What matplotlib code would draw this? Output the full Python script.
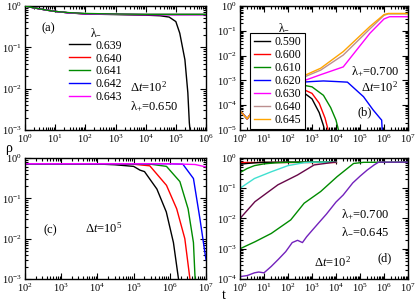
import matplotlib
matplotlib.use("Agg")
import matplotlib.pyplot as plt
from matplotlib.ticker import LogLocator, LogFormatterMathtext, NullFormatter

plt.rcParams['font.family'] = 'serif'
plt.rcParams['font.serif'] = ['Liberation Serif']
plt.rcParams['mathtext.fontset'] = 'custom'
plt.rcParams['mathtext.rm'] = 'Liberation Serif'
plt.rcParams['mathtext.it'] = 'Liberation Serif:italic'

GREEN = '#008b00'
BROWN = '#bc8f8f'
ORANGE = '#ffa500'
TURQ = '#40e0d0'
MAROON = '#670748'
INDIGO = '#7221bc'

# ---- panel (a): dt = 1e2, lambda+ = 0.650
a_labels = ['0.639', '0.640', '0.641', '0.642', '0.643']
a_colors = ['black', 'red', GREEN, 'blue', 'magenta']
a_t = [
    [1, 2, 5, 10, 30, 100, 1e3, 1e4, 3e4, 6e4, 1e5, 1.35e5, 2e5, 2.5e5, 2.8e5, 3e5],
    [1, 2, 5, 10, 30, 100, 1e3, 1e4, 1e5, 1e6],
    [1, 2, 5, 10, 30, 100, 1e3, 1e4, 1e5, 1e6],
    [1, 2, 5, 10, 30, 100, 1e3, 1e4, 1e5, 1e6],
    [1, 2, 5, 10, 30, 100, 1e3, 1e4, 1e5, 1e6],
]
a_rho = [
    [1.0, 0.9, 0.8, 0.74, 0.68, 0.64, 0.62, 0.6, 0.58, 0.54, 0.42, 0.22, 0.05, 0.008, 0.0015, 0.0009],
    [1.0, 0.9, 0.8, 0.74, 0.68, 0.65, 0.63, 0.62, 0.62, 0.62],
    [1.0, 0.9, 0.8, 0.74, 0.69, 0.66, 0.64, 0.63, 0.63, 0.63],
    [1.0, 0.9, 0.8, 0.74, 0.68, 0.65, 0.63, 0.62, 0.62, 0.62],
    [1.0, 0.9, 0.8, 0.74, 0.68, 0.65, 0.63, 0.62, 0.62, 0.62],
]

# ---- panel (b): dt = 1e2, lambda+ = 0.700
b_labels = ['0.590', '0.600', '0.610', '0.620', '0.630', '0.640', '0.645']
b_colors = ['black', 'red', GREEN, 'blue', 'magenta', BROWN, ORANGE]
b_t = [
    [1, 2, 3, 10, 100, 400, 1000, 2000, 3000, 3500, 4000],
    [1, 2, 3, 10, 100, 400, 1000, 2000, 3500, 5000, 5500],
    [1, 2, 3, 10, 100, 400, 1000, 3000, 6000, 1e4, 1.3e4, 1.4e4],
    [1, 2, 3, 10, 100, 400, 1000, 3000, 1e4, 3e4, 1.4e5, 3.5e5, 6.8e5, 8e5, 8.5e5, 9e5],
    [1, 2, 3, 10, 100, 500, 2300, 2e4, 2.6e5, 1e6, 1.7e6, 1e7],
    [1, 2, 3, 10, 100, 500, 2300, 2e4, 2.6e5, 1e6, 1.5e6, 1e7],
    [1, 2, 3, 10, 100, 500, 2300, 2e4, 2.6e5, 1e6, 1.5e6, 1e7],
]
b_rho = [
    [6e-5, 2.8e-5, 5e-5, 1e-4, 3e-4, 3.5e-4, 1.8e-4, 5e-5, 1.5e-5, 8e-6, 5e-6],
    [6e-5, 2.8e-5, 5e-5, 1e-4, 3.5e-4, 4.5e-4, 3e-4, 1.2e-4, 3e-5, 8e-6, 5e-6],
    [6e-5, 2.8e-5, 5e-5, 1e-4, 4e-4, 6.5e-4, 5.5e-4, 2.5e-4, 8e-5, 2.5e-5, 9e-6, 5e-6],
    [6e-5, 2.8e-5, 5e-5, 1e-4, 5e-4, 8.5e-4, 9e-4, 9.5e-4, 9e-4, 8.5e-4, 2.2e-4, 6.5e-5, 3e-5, 2.5e-5, 8e-6, 5e-6],
    [6e-5, 2.8e-5, 5e-5, 1e-4, 5e-4, 1e-3, 1.7e-3, 3.5e-3, 0.08, 0.3, 0.37, 0.37],
    [6e-5, 2.8e-5, 5e-5, 1e-4, 6e-4, 1.4e-3, 2.6e-3, 1.05e-2, 0.12, 0.42, 0.48, 0.48],
    [6e-5, 2.8e-5, 5e-5, 1e-4, 6e-4, 1.6e-3, 3.1e-3, 1.45e-2, 0.15, 0.45, 0.5, 0.5],
]

# ---- panel (c): dt = 1e5
c_colors = ['black', 'red', GREEN, 'blue', 'magenta']
c_t = [
    [1e2, 1e3, 1e4, 3e4, 1e5, 1.5e5, 2e5, 4.4e5, 8e5, 1.26e6, 1.74e6],
    [1e2, 1e4, 1e5, 2.8e5, 8.1e5, 1.55e6, 2.6e6, 3.6e6],
    [1e2, 1e5, 3e5, 8.1e5, 1.9e6, 3.2e6, 4.5e6, 5e6],
    [1e2, 1e6, 2.3e6, 4.5e6, 6.8e6, 9.3e6, 1e7],
    [1e2, 1e6, 5e6, 1e7],
]
c_rho = [
    [0.72, 0.72, 0.71, 0.68, 0.62, 0.5, 0.46, 0.17, 0.046, 0.008, 0.001],
    [0.72, 0.72, 0.7, 0.64, 0.21, 0.055, 0.01, 0.001],
    [0.72, 0.72, 0.7, 0.62, 0.26, 0.055, 0.008, 0.001],
    [0.72, 0.72, 0.7, 0.31, 0.031, 0.0046, 0.003],
    [0.72, 0.72, 0.69, 0.6],
]

# ---- panel (d): dt = 1e2, lambda+ = 0.700, lambda- = 0.645, various initial densities
d_colors = ['red', 'black', GREEN, TURQ, MAROON, GREEN, INDIGO]
d_t = [
    [1, 10, 100, 1e3, 1e4],
    [1, 2, 5, 10, 100, 1e4],
    [1, 2, 4, 10, 30, 100, 1e3, 1e4],
    [1, 4, 20, 100, 470, 1e3, 1e4],
    [1, 4.2, 38, 250, 1230, 8000, 1e4],
    [1, 4.2, 20, 130, 470, 2300, 1.1e4, 5.4e4, 1.4e5, 1e7],
    [1, 2, 4, 6, 10, 20, 40, 80, 150, 250, 400, 600, 1000, 2000, 4000, 1e4, 2e4,
     5e4, 1e5, 2e5, 4e5, 6e5, 1e6, 1e7],
]
d_rho = [
    [0.74, 0.74, 0.74, 0.74, 0.74],
    [0.62, 0.66, 0.7, 0.72, 0.73, 0.73],
    [0.33, 0.45, 0.56, 0.64, 0.69, 0.72, 0.73, 0.73],
    [0.1, 0.21, 0.35, 0.56, 0.7, 0.73, 0.73],
    [0.01, 0.036, 0.13, 0.275, 0.59, 0.72, 0.73],
    [1e-3, 1.7e-3, 3.2e-3, 9e-3, 0.032, 0.078, 0.24, 0.66, 0.72, 0.73],
    [1.2e-4, 1.3e-4, 1.6e-4, 1.7e-4, 1.6e-4, 2.6e-4, 4.5e-4, 8e-4, 1.6e-3, 1.9e-3,
     1.6e-3, 2.5e-3, 4e-3, 7.5e-3, 1.4e-2, 3.5e-2, 6e-2, 0.15, 0.25, 0.4, 0.6,
     0.73, 0.73, 0.73],
]

W, H = 415, 301
fig = plt.figure(figsize=(W / 100, H / 100), dpi=100)


def make_ax(x0, y0, x1, y1):
    return fig.add_axes([x0 / W, 1 - y1 / H, (x1 - x0) / W, (y1 - y0) / H])


def style(ax, xlim, ylim):
    ax.set_xscale('log')
    ax.set_yscale('log')
    ax.set_xlim(*xlim)
    ax.set_ylim(*ylim)
    for axis in (ax.xaxis, ax.yaxis):
        axis.set_major_locator(LogLocator(base=10, numticks=20))
        axis.set_minor_locator(LogLocator(base=10, subs=range(2, 10), numticks=20))
        axis.set_major_formatter(LogFormatterMathtext())
        axis.set_minor_formatter(NullFormatter())
    ax.tick_params(which='both', direction='in', top=True, right=True,
                   labelsize=7.5, width=0.8, pad=2)
    ax.tick_params(which='major', length=4)
    ax.tick_params(which='minor', length=2)
    for s in ax.spines.values():
        s.set_linewidth(1)


ax_a = make_ax(25, 6, 206, 130)
ax_b = make_ax(240, 6, 408, 130)
ax_c = make_ax(25, 158, 206, 279)
ax_d = make_ax(240, 158, 408, 279)

FS = 9
LFS = 8.5

# (a)
for t, r, c, lab in zip(a_t, a_rho, a_colors, a_labels):
    ax_a.plot(t, r, color=c, lw=1, label=lab, zorder=3 if c == GREEN else 2)
style(ax_a, (1, 1e6), (1e-3, 1))
leg = ax_a.legend(title='λ$_{-}$', loc='upper left', bbox_to_anchor=(0.2, 0.9),
                  frameon=False, fontsize=LFS, title_fontsize=LFS, handlelength=1.7,
                  labelspacing=0.08, handletextpad=0.5, borderpad=0.2)
ax_a.text(0.09, 0.8, '(a)', transform=ax_a.transAxes, fontsize=FS)
ax_a.text(0.58, 0.31, 'Δ$t$=10$^{2}$', transform=ax_a.transAxes, fontsize=FS)
ax_a.text(0.58, 0.16, 'λ$_{+}$=0.650', transform=ax_a.transAxes, fontsize=FS)

# (b)
for t, r, c, lab in zip(b_t, b_rho, b_colors, b_labels):
    ax_b.plot(t, r, color=c, lw=1, label=lab)
style(ax_b, (1, 1e7), (1e-5, 1))
leg = ax_b.legend(loc='upper left', bbox_to_anchor=(0.06, 0.785), frameon=True,
                  fontsize=LFS, handlelength=1.4, labelspacing=0.08,
                  handletextpad=0.4, borderpad=0.3, borderaxespad=0)
leg.get_frame().set_edgecolor('black')
leg.get_frame().set_linewidth(0.8)
leg.get_frame().set_boxstyle('square', pad=0)
leg.get_frame().set_alpha(1)
ax_b.text(0.26, 0.8, 'λ$_{-}$', transform=ax_b.transAxes, fontsize=LFS, ha='center')
ax_b.text(0.66, 0.44, 'λ$_{+}$=0.700', transform=ax_b.transAxes, fontsize=FS)
ax_b.text(0.72, 0.31, 'Δ$t$=10$^{2}$', transform=ax_b.transAxes, fontsize=FS)
ax_b.text(0.7, 0.12, '(b)', transform=ax_b.transAxes, fontsize=FS)

# (c)
for t, r, c in zip(c_t, c_rho, c_colors):
    ax_c.plot(t, r, color=c, lw=1)
style(ax_c, (1e2, 1e7), (1e-3, 1))
ax_c.text(0.1, 0.38, '(c)', transform=ax_c.transAxes, fontsize=FS)
ax_c.text(0.33, 0.38, 'Δ$t$=10$^{5}$', transform=ax_c.transAxes, fontsize=FS)

# (d)
for t, r, c in zip(d_t, d_rho, d_colors):
    ax_d.plot(t, r, color=c, lw=1)
style(ax_d, (1, 1e7), (1e-4, 1))
ax_d.text(0.6, 0.5, 'λ$_{+}$=0.700', transform=ax_d.transAxes, fontsize=FS)
ax_d.text(0.6, 0.36, 'λ$_{-}$=0.645', transform=ax_d.transAxes, fontsize=FS)
ax_d.text(0.44, 0.1, 'Δ$t$=10$^{2}$', transform=ax_d.transAxes, fontsize=FS)
ax_d.text(0.82, 0.15, '(d)', transform=ax_d.transAxes, fontsize=FS)

fig.text(5 / W, 1 - 152 / H, 'ρ', fontsize=10)
fig.text(222 / W, 1 - 299 / H, 't', fontsize=10)

fig.savefig('out.png', dpi=100)
